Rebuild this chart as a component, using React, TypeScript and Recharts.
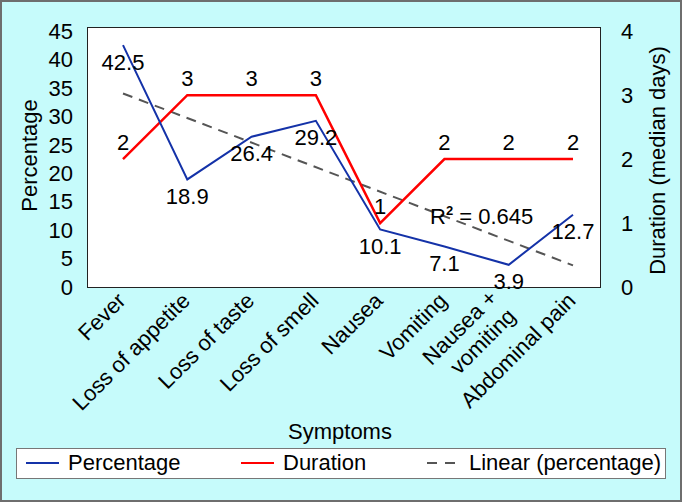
import React from 'react';
import { LineChart, Line, XAxis, YAxis, LabelList } from 'recharts';

const symptoms = [
  'Fever',
  'Loss of appetite',
  'Loss of taste',
  'Loss of smell',
  'Nausea',
  'Vomiting',
  'Nausea +\nvomiting',
  'Abdominal pain'
];
const percentage = [42.5, 18.9, 26.4, 29.2, 10.1, 7.1, 3.9, 12.7];
const duration = [2, 3, 3, 3, 1, 2, 2, 2];
// trend line end points (dashed "Linear (percentage)")
const trend = [34.0, null, null, null, null, null, null, 3.8];
const percentTicks = [0, 5, 10, 15, 20, 25, 30, 35, 40, 45];
const durationTicks = [0, 1, 2, 3, 4];

const data = symptoms.map((name, i) => ({
  name,
  percentage: percentage[i],
  duration: duration[i],
  trend: trend[i]
}));

const FONT = '"Liberation Sans", Arial, sans-serif';
const FS = 22;
const BLUE = '#1432a8';
const RED = '#ff0000';
const DASH = '#555555';

function CategoryTick({ x, y, payload }: any) {
  const lines = String(payload.value).split('\n');
  const multi = lines.length > 1;
  return (
    <g transform={`translate(${x + 4},${y + 15}) rotate(-45)`}>
      <text textAnchor="end" fontSize={FS} fill="#000" fontFamily={FONT}>
        {lines.map((l, i) => (
          <tspan key={i} x={multi ? -8 : 0} y={multi ? (i === 0 ? -12 : 14) : 0}>
            {l}
          </tspan>
        ))}
      </text>
    </g>
  );
}

const belowLabel = (props: any) => {
  const { x, y, value } = props;
  return (
    <text x={x} y={y + 17} textAnchor="middle" dominantBaseline="central" fontSize={FS} fill="#000" fontFamily={FONT}>
      {value}
    </text>
  );
};

const aboveLabel = (props: any) => {
  const { x, y, value } = props;
  return (
    <text x={x} y={y - 17} textAnchor="middle" dominantBaseline="central" fontSize={FS} fill="#000" fontFamily={FONT}>
      {value}
    </text>
  );
};

function LegendItem({ color, dashed, label, left }: { color: string; dashed?: boolean; label: string; left: number }) {
  return (
    <div style={{ position: 'absolute', left, top: 0, height: 28, display: 'flex', alignItems: 'center' }}>
      <svg width={34} height={6} style={{ marginRight: 8 }}>
        <line x1={0} y1={3} x2={dashed ? 28 : 33} y2={3} stroke={color} strokeWidth={2} strokeDasharray={dashed ? '10 8' : undefined} />
      </svg>
      <span style={{ fontSize: FS }}>{label}</span>
    </div>
  );
}

export default function App() {
  return (
    <div
      style={{
        position: 'absolute',
        left: 0,
        top: 0,
        width: 682,
        height: 502,
        background: '#c6fbfb',
        boxShadow: 'inset 0 0 0 2px #6e6e6e',
        fontFamily: FONT,
        color: '#000'
      }}
    >
      {/* plot area box */}
      <div
        style={{
          position: 'absolute',
          left: 87,
          top: 27,
          width: 514,
          height: 261,
          background: '#fff',
          border: '1.5px solid #222',
          boxSizing: 'border-box'
        }}
      />
      <div style={{ position: 'absolute', left: 0, top: 0 }}>
        <LineChart width={682} height={502} data={data} margin={{ top: 28, right: 0, bottom: 0, left: 0 }}>
          <XAxis
            dataKey="name"
            height={215}
            padding={{ left: 32, right: 32 }}
            axisLine={false}
            tickLine={false}
            tickSize={0}
            tickMargin={0}
            interval={0}
            tick={<CategoryTick />}
            label={{ value: 'Symptoms', position: 'center', dx: -8, dy: 37, fontSize: FS, fill: '#000', fontFamily: FONT }}
          />
          <YAxis
            yAxisId="left"
            width={91}
            domain={[0, 45.5]}
            ticks={percentTicks}
            interval={0}
            axisLine={false}
            tickLine={false}
            tickSize={0}
            tickMargin={18}
            tick={{ fontSize: FS, fill: '#000', fontFamily: FONT }}
            label={{ value: 'Percentage', angle: -90, position: 'center', dx: -16, dy: -2, fontSize: FS, fill: '#000', fontFamily: FONT }}
          />
          <YAxis
            yAxisId="right"
            orientation="right"
            width={77}
            domain={[0, 4.05]}
            ticks={durationTicks}
            interval={0}
            axisLine={false}
            tickLine={false}
            tickSize={0}
            tickMargin={16}
            tick={{ fontSize: FS, fill: '#000', fontFamily: FONT }}
            label={{ value: 'Duration (median days)', angle: -90, position: 'center', dx: 14, dy: 3, fontSize: FS, fill: '#000', fontFamily: FONT }}
          />
          <Line
            yAxisId="left"
            type="linear"
            dataKey="trend"
            stroke={DASH}
            strokeWidth={2}
            strokeDasharray="10 7"
            dot={false}
            connectNulls
            isAnimationActive={false}
          />
          <Line
            yAxisId="right"
            type="linear"
            dataKey="duration"
            stroke={RED}
            strokeWidth={2.5}
            dot={false}
            isAnimationActive={false}
          >
            <LabelList dataKey="duration" content={aboveLabel} />
          </Line>
          <Line
            yAxisId="left"
            type="linear"
            dataKey="percentage"
            stroke={BLUE}
            strokeWidth={2}
            dot={false}
            isAnimationActive={false}
          >
            <LabelList dataKey="percentage" content={belowLabel} />
          </Line>
        </LineChart>
      </div>
      {/* trend line annotation */}
      <div style={{ position: 'absolute', left: 430, top: 205, fontSize: FS, lineHeight: '24px', whiteSpace: 'nowrap' }}>
        R<span style={{ fontSize: 13, fontWeight: 'bold', position: 'relative', top: -9 }}>2</span> = 0.645
      </div>
      {/* legend */}
      <div
        style={{
          position: 'absolute',
          left: 16,
          top: 448,
          width: 650,
          height: 31,
          background: '#fff',
          border: '1.5px solid #777',
          boxSizing: 'border-box'
        }}
      >
        <LegendItem color={BLUE} label="Percentage" left={9} />
        <LegendItem color={RED} label="Duration" left={224} />
        <LegendItem color={DASH} dashed label="Linear (percentage)" left={410} />
      </div>
    </div>
  );
}
